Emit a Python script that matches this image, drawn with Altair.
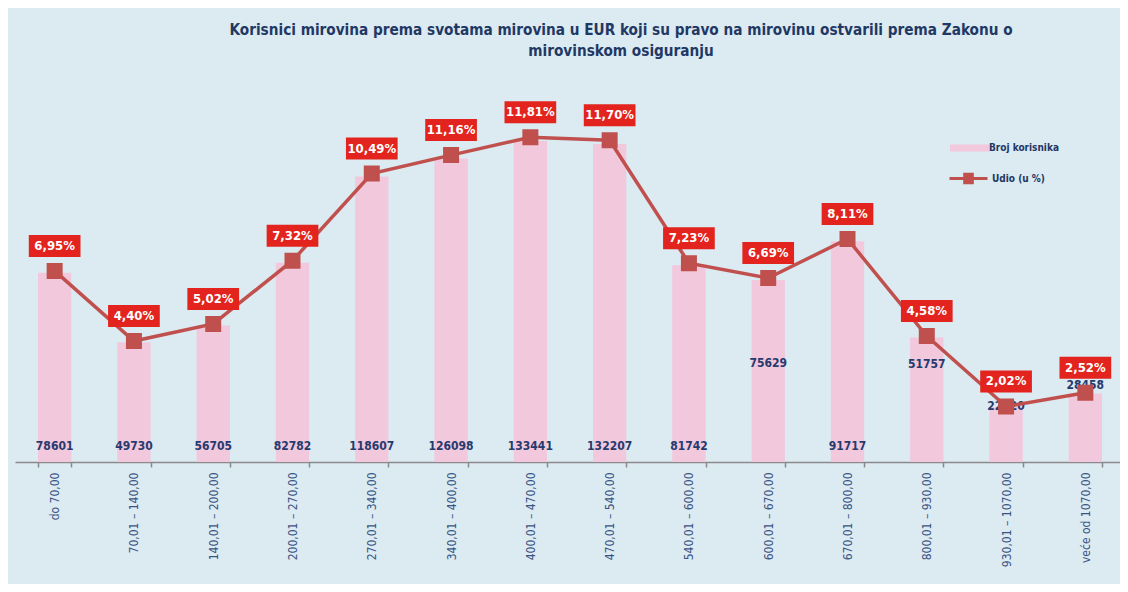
import altair as alt
import pandas as pd

categories = [
    "do 70,00", "70,01 – 140,00", "140,01 – 200,00", "200,01 – 270,00",
    "270,01 – 340,00", "340,01 – 400,00", "400,01 – 470,00", "470,01 – 540,00",
    "540,01 – 600,00", "600,01 – 670,00", "670,01 – 800,00", "800,01 – 930,00",
    "930,01 – 1070,00", "veće od 1070,00",
]
broj_korisnika = [78601, 49730, 56705, 82782, 118607, 126098, 133441, 132207,
                  81742, 75629, 91717, 51757, 22820, 28458]
udio = [6.95, 4.40, 5.02, 7.32, 10.49, 11.16, 11.81, 11.70,
        7.23, 6.69, 8.11, 4.58, 2.02, 2.52]

# where the count labels sit (in count units), as in the original chart
count_label_at = [6650, 6650, 6650, 6650, 6650, 6650, 6650, 6650,
                  6650, 41000, 6650, 40800, 23300, 32000]

df = pd.DataFrame({
    "kat": categories,
    "broj": broj_korisnika,
    "udio": udio,
    "broj_at": count_label_at,
    "udio_txt": [f"{v:.2f}".replace(".", ",") + "%" for v in udio],
    "s1": "Broj korisnika",
    "s2": "Udio (u %)",
})

FONT = "Liberation Sans Narrow, DejaVu Sans Condensed, Open Sans, sans-serif"
NAVY = "#1f3864"
LINE = "#c0504d"
PINK = "#f2c8dc"
RED = "#e3231d"

x = alt.X("kat:N", sort=categories, title=None,
          scale=alt.Scale(paddingInner=0.58, paddingOuter=0.29),
          axis=alt.Axis(labelAngle=-90, labelFontSize=12, labelFont=FONT,
                        labelColor="#3a5585", tickBand="extent", tickSize=5,
                        tickColor="#8a8a8a", domainColor="#8a8a8a", domainWidth=1.5,
                        tickWidth=1.5, labelPadding=5, labelLimit=200))

yc = alt.Scale(domain=[0, 160000], nice=False)
yp = alt.Scale(domain=[0, 14], nice=False)

bars = alt.Chart(df).mark_bar(opacity=1).encode(
    x=x,
    y=alt.Y("broj:Q", scale=yc, axis=None),
    fill=alt.Fill("s1:N", scale=alt.Scale(range=[PINK]), title=None,
                  legend=alt.Legend(orient="none", legendX=948, legendY=64,
                                    symbolType="M-2.85,-0.5L2.85,-0.5L2.85,0.5L-2.85,0.5Z",
                                    symbolSize=196, symbolStrokeWidth=0,
                                    labelFont=FONT, labelFontSize=10, labelFontWeight="bold",
                                    labelColor=NAVY, padding=0, labelOffset=12)),
)
count_txt = alt.Chart(df).mark_text(font=FONT, fontSize=12, fontWeight="bold",
                                    color="#263a6e", baseline="middle").encode(
    x=x,
    y=alt.Y("broj_at:Q", scale=yc, axis=None),
    text="broj:Q",
)

line = alt.Chart(df).mark_line(
    strokeWidth=3.5,
    point=alt.OverlayMarkDef(shape="square", size=196, filled=True, color=LINE, opacity=1),
).encode(
    x=x,
    y=alt.Y("udio:Q", scale=yp, axis=None),
    stroke=alt.Stroke("s2:N", scale=alt.Scale(range=[LINE]), title=None,
                      legend=alt.Legend(orient="none", legendX=933, legendY=81,
                                        symbolType="M-1,0L1,0M-0.2,-0.22L0.2,-0.22L0.2,0.22L-0.2,0.22Z",
                                        symbolSize=1444, symbolStrokeWidth=3,
                                        symbolFillColor=LINE,
                                        labelFont=FONT, labelFontSize=10, labelOffset=3,
                                        labelFontWeight="bold", labelColor=NAVY, padding=0)),
)
boxes = alt.Chart(df).mark_point(
    shape="M-2.35,-1L2.35,-1L2.35,1L-2.35,1Z", size=484, filled=True, color=RED,
    opacity=1, yOffset=-25,
).encode(
    x=x,
    y=alt.Y("udio:Q", scale=yp, axis=None),
)
pct_txt = alt.Chart(df).mark_text(font=FONT, fontSize=13, fontWeight="bold", color="white",
                                  baseline="middle", yOffset=-25).encode(
    x=x,
    y=alt.Y("udio:Q", scale=yp, axis=None),
    text="udio_txt:N",
)

chart = alt.layer(
    alt.layer(bars, count_txt),
    alt.layer(line, boxes, pct_txt),
).resolve_scale(y="independent").properties(
    width=1110, height=385,
    autosize=alt.AutoSizeParams(type="none"),
    padding={"left": 7, "top": 69, "right": -5, "bottom": 122},
    title=alt.TitleParams(
        text=["Korisnici mirovina prema svotama mirovina u EUR koji su pravo na mirovinu ostvarili prema Zakonu o",
              "mirovinskom osiguranju"],
        font=FONT, fontSize=15.2, fontWeight="bold", color=NAVY,
        anchor="middle", dx=51, offset=18, lineHeight=21),
).configure(background="#dceaf2").configure_view(stroke=None)

chart.save("out.html", embed_options={"renderer": "svg", "actions": False})
